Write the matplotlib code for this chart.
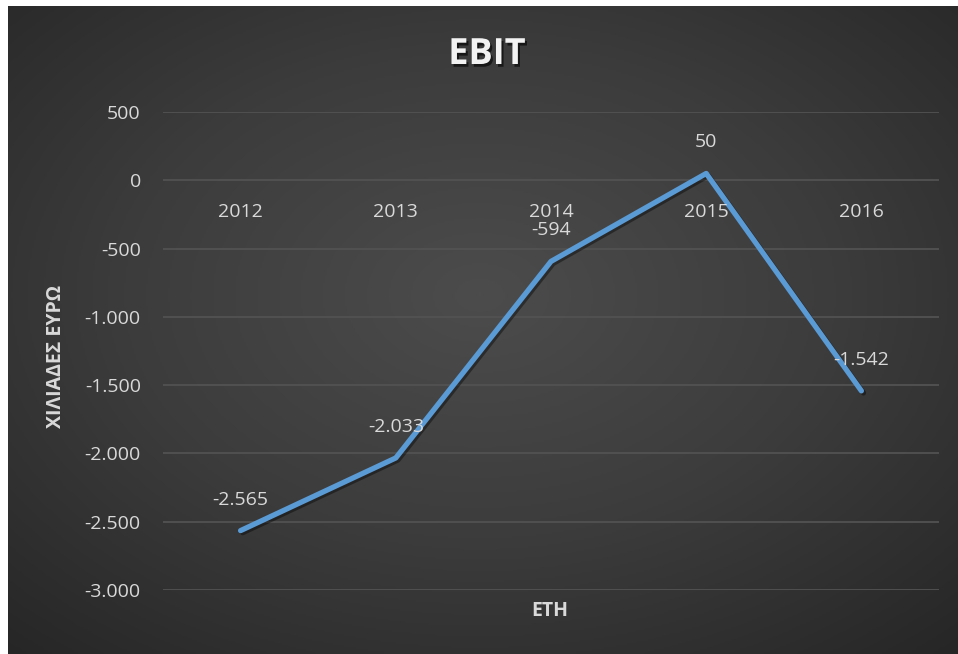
import numpy as np
import matplotlib
matplotlib.use("Agg")
import matplotlib.pyplot as plt
import matplotlib.patheffects as pe
from matplotlib.colors import LinearSegmentedColormap
from matplotlib.ticker import FuncFormatter
from matplotlib.patches import Rectangle

years = ["2012", "2013", "2014", "2015", "2016"]
ebit = [-2565, -2033, -594, 50, -1542]
yticks = [500, 0, -500, -1000, -1500, -2000, -2500, -3000]
title = "EBIT"
ylabel = "ΧΙΛΙΑΔΕΣ ΕΥΡΩ"
xlabel = "ΕΤΗ"

FONT = ["Open Sans", "DejaVu Sans"]
plt.rcParams["font.family"] = FONT

W, H = 958, 654
fig = plt.figure(figsize=(W / 100, H / 100), dpi=100)
fig.patch.set_facecolor("#2a2a2a")

# background radial gradient covering the whole figure
bg = fig.add_axes([0, 0, 1, 1])
bg.set_axis_off()
ny, nx = 327, 479
yy, xx = np.mgrid[0:ny, 0:nx]
cx, cy = nx * 0.5, ny * 0.45
r = np.sqrt(((xx - cx) / nx) ** 2 + ((yy - cy) / ny) ** 2)
r = r / r.max()
cmap = LinearSegmentedColormap.from_list("g", ["#4c4c4c", "#3c3c3c", "#262626"])
bg.imshow(r, cmap=cmap, aspect="auto", extent=[0, W, 0, H], origin="upper",
          interpolation="bilinear")
bg.set_xlim(0, W)
bg.set_ylim(0, H)
# white border on the left and top, as in the reference
bg.add_patch(Rectangle((0, 0), 8, H, color="white", zorder=5, lw=0))
bg.add_patch(Rectangle((0, H - 6), W, 6, color="white", zorder=5, lw=0))

ax = fig.add_axes([163 / W, 1 - 590 / H, 776 / W, 478 / H])
ax.patch.set_alpha(0)
for s in ax.spines.values():
    s.set_visible(False)
x = np.arange(len(years))
ax.set_xlim(-0.5, len(years) - 0.5)
ax.set_ylim(min(yticks), max(yticks))
ax.set_yticks(yticks)
ax.yaxis.set_major_formatter(FuncFormatter(lambda v, p: f"{int(v):,}".replace(",", ".")))
ax.tick_params(axis="y", length=0, pad=16, labelsize=14, labelcolor="#d9d9d9")
ax.set_xticks([])
for t in yticks:
    ax.axhline(t, color="#525252", lw=1.3, zorder=1)

ax.plot(x, ebit, color="#5b9bd5", lw=3.8, solid_capstyle="round", solid_joinstyle="round",
        zorder=3, clip_on=False,
        path_effects=[pe.SimpleLineShadow(offset=(1.5, -1.5), shadow_color="black", alpha=0.4),
                      pe.Normal()])

for i, yr in enumerate(years):
    ax.annotate(yr, (i, 0), xytext=(0, -32), textcoords="offset pixels",
                ha="center", va="center", fontsize=14, color="#d9d9d9", zorder=4)

for i, v in enumerate(ebit):
    ax.annotate(f"{v:,}".replace(",", "."), (i, v), xytext=(0, 31), textcoords="offset pixels",
                ha="center", va="center", fontsize=14, color="#d9d9d9", zorder=5)

fig.text(487 / W, 1 - 55 / H, title, ha="center", va="center", fontsize=26, fontweight="bold",
         color="#f2f2f2",
         path_effects=[pe.withSimplePatchShadow(offset=(1.5, -2), shadow_rgbFace="black", alpha=0.6)])
fig.text(56 / W, 1 - 356 / H, ylabel, ha="center", va="center", rotation=90, fontsize=14,
         fontweight="bold", color="#d9d9d9")
fig.text(550 / W, 1 - 611 / H, xlabel, ha="center", va="center", fontsize=14,
         fontweight="bold", color="#d9d9d9")

fig.savefig("out.png", dpi=100, facecolor=fig.get_facecolor())
